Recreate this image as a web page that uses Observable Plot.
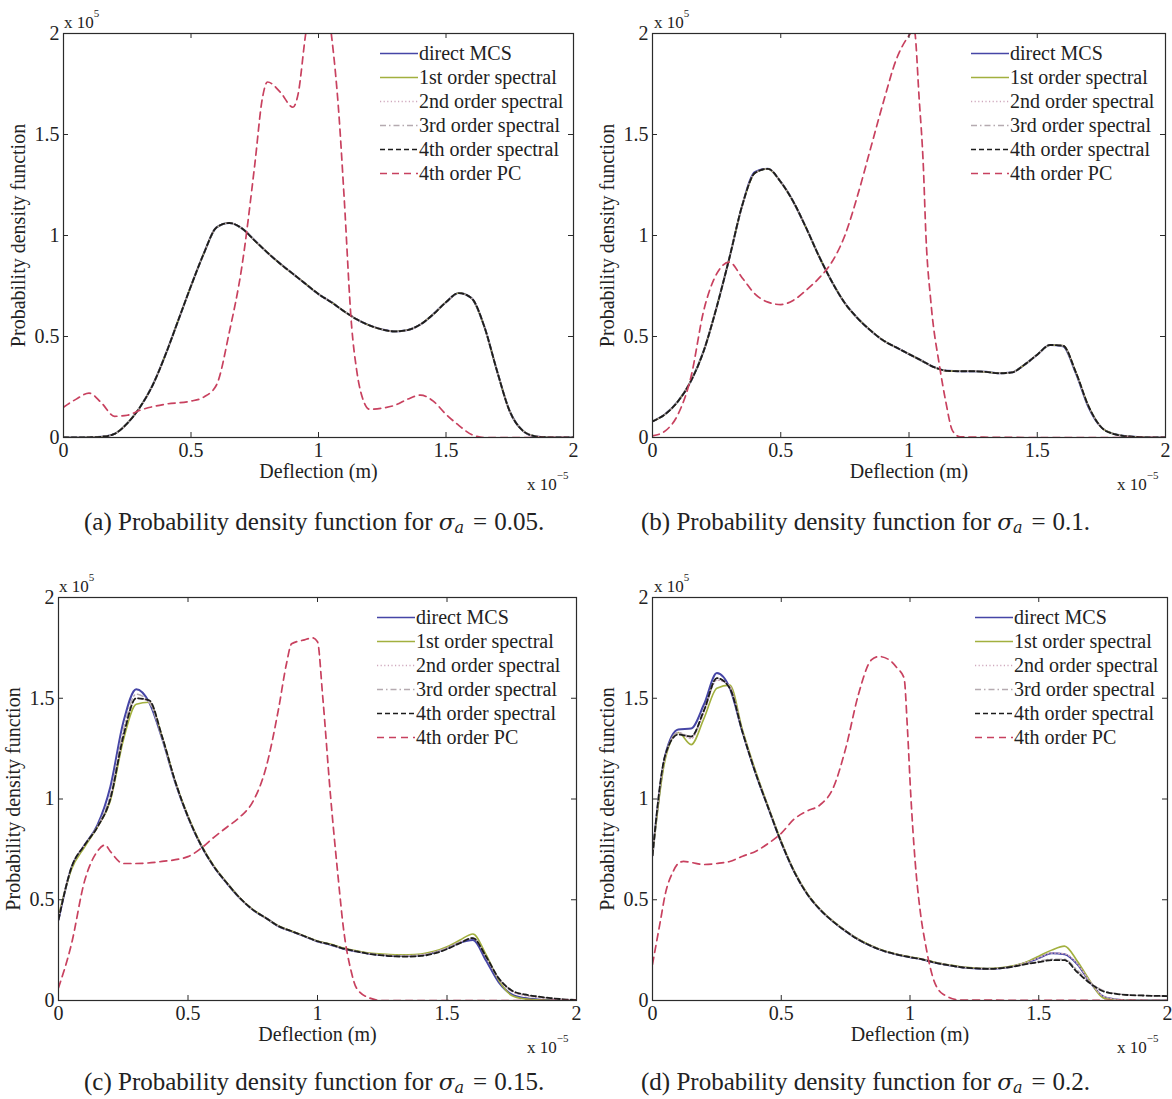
<!DOCTYPE html>
<html>
<head>
<meta charset="utf-8">
<script src="https://cdn.jsdelivr.net/npm/d3@7"></script>
<script src="https://cdn.jsdelivr.net/npm/@observablehq/plot@0.6"></script>
<style>
  html, body { margin: 0; padding: 0; background: #fff; }
  #page { position: relative; width: 1172px; height: 1099px; overflow: hidden; background: #fff;
          font-family: "Liberation Serif", "Times New Roman", serif; color: #222; }
  .panel { position: absolute; }
  .abs { position: absolute; white-space: nowrap; line-height: 1; }
  .mult { font-size: 17px; }
  .mult sup { font-size: 11px; position: relative; top: -4px; }
  .cap { font-size: 25px; }
  .cap .m { font-family: "DejaVu Serif", "Liberation Serif", serif; font-style: italic; font-size: 23px; }
  .cap sub { font-size: 16px; font-style: italic; position: relative; top: 3px; vertical-align: baseline; font-family: "DejaVu Serif", serif; }
  .cap .eq { margin: 0 7px 0 9px; }
  .leg { position: absolute; font-size: 20px; line-height: 1; }
  .leg .row { position: absolute; left: 0; height: 20px; display: flex; align-items: center; white-space: nowrap; }
  .leg svg { display: block; margin-right: 1px; }
</style>
</head>
<body>
<div id="page"></div>
<script>
// ---------------- data (x in 1e-5 m, y in 1e5) ----------------
const xTicks = [0, 0.5, 1, 1.5, 2];
const yTicks = [0, 0.5, 1, 1.5, 2];
const seriesNames = ["direct MCS", "1st order spectral", "2nd order spectral", "3rd order spectral", "4th order spectral", "4th order PC"];
const captions = ["(a)", "(b)", "(c)", "(d)"];
const sigmaValues = ["0.05", "0.1", "0.15", "0.2"];

const xs = [0,0.05,0.1,0.15,0.2,0.25,0.3,0.35,0.4,0.45,0.5,0.55,0.6,0.65,0.7,0.75,0.8,0.85,0.9,0.95,1,1.05,1.1,1.15,1.2,1.25,1.3,1.35,1.4,1.45,1.5,1.55,1.6,1.65,1.7,1.75,1.8,1.85,1.9,1.95,2];

// (a) sigma = 0.05
const aMCS      = [0,0,0.001,0.004,0.018,0.07,0.15,0.26,0.41,0.58,0.75,0.91,1.04,1.062,1.035,0.975,0.915,0.86,0.81,0.76,0.71,0.67,0.625,0.585,0.555,0.535,0.525,0.532,0.56,0.61,0.67,0.715,0.69,0.55,0.33,0.13,0.035,0.006,0.001,0,0];
const aSpectral = [0,0,0.001,0.004,0.018,0.07,0.15,0.26,0.41,0.58,0.75,0.91,1.04,1.062,1.035,0.975,0.915,0.86,0.81,0.76,0.71,0.67,0.625,0.585,0.555,0.535,0.525,0.532,0.56,0.61,0.67,0.715,0.69,0.55,0.33,0.13,0.035,0.006,0.001,0,0];
const aPCx = [0,0.05,0.1,0.15,0.2,0.25,0.3,0.4,0.5,0.55,0.6,0.65,0.7,0.75,0.78,0.8,0.85,0.9,0.92,0.95,1.0,1.05,1.08,1.1,1.13,1.15,1.18,1.2,1.25,1.3,1.35,1.4,1.45,1.5,1.55,1.6,1.65,1.8,2];
const aPCy = [0.15,0.19,0.22,0.17,0.105,0.11,0.135,0.165,0.18,0.2,0.26,0.52,0.85,1.35,1.68,1.76,1.71,1.635,1.7,2.0,2.3,2.0,1.6,1.2,0.55,0.33,0.17,0.14,0.145,0.16,0.19,0.21,0.18,0.115,0.06,0.015,0,0,0];

// (b) sigma = 0.1
const bMCS      = [0.08,0.116,0.18,0.28,0.43,0.645,0.89,1.15,1.315,1.33,1.265,1.165,1.035,0.895,0.77,0.665,0.59,0.53,0.48,0.446,0.413,0.38,0.347,0.33,0.328,0.328,0.325,0.318,0.322,0.36,0.41,0.458,0.452,0.32,0.15,0.05,0.017,0.006,0.002,0,0];
const bSpectral = [0.08,0.116,0.18,0.28,0.43,0.645,0.89,1.15,1.31,1.33,1.265,1.165,1.035,0.895,0.77,0.665,0.59,0.53,0.48,0.446,0.413,0.38,0.347,0.33,0.328,0.328,0.325,0.318,0.322,0.36,0.41,0.458,0.455,0.325,0.155,0.05,0.017,0.006,0.002,0,0];
const bPCx = [0,0.05,0.1,0.15,0.2,0.25,0.3,0.35,0.4,0.45,0.5,0.55,0.6,0.65,0.7,0.75,0.8,0.85,0.9,0.95,1.0,1.02,1.04,1.056,1.066,1.085,1.12,1.143,1.17,1.2,1.5,2];
const bPCy = [0.008,0.033,0.116,0.3,0.63,0.81,0.868,0.79,0.71,0.67,0.658,0.68,0.73,0.79,0.87,1.0,1.2,1.43,1.66,1.87,1.99,2.02,1.67,1.34,1.0,0.675,0.347,0.18,0.033,0.003,0,0];

// (c) sigma = 0.15
const cMCS = [0.4,0.66,0.77,0.87,1.06,1.38,1.545,1.48,1.3,1.085,0.91,0.77,0.664,0.582,0.508,0.45,0.41,0.368,0.343,0.318,0.293,0.277,0.257,0.244,0.232,0.226,0.222,0.222,0.226,0.238,0.26,0.287,0.3,0.2,0.09,0.03,0.012,0.005,0.002,0.001,0];
const c1st = [0.42,0.65,0.76,0.86,0.99,1.29,1.47,1.48,1.31,1.09,0.915,0.775,0.668,0.585,0.51,0.452,0.41,0.37,0.345,0.32,0.295,0.28,0.26,0.247,0.236,0.23,0.227,0.227,0.231,0.244,0.267,0.3,0.33,0.23,0.1,0.025,0.008,0.003,0.001,0,0];
const c2nd = [0.41,0.66,0.77,0.86,1.0,1.31,1.5,1.485,1.31,1.09,0.912,0.772,0.666,0.583,0.509,0.451,0.41,0.369,0.344,0.319,0.294,0.278,0.258,0.245,0.233,0.227,0.223,0.223,0.227,0.24,0.262,0.29,0.31,0.215,0.105,0.045,0.025,0.015,0.01,0.006,0.003];
const c3rd = [0.4,0.66,0.77,0.865,1.02,1.34,1.52,1.48,1.3,1.087,0.91,0.77,0.664,0.582,0.508,0.45,0.41,0.368,0.343,0.318,0.293,0.277,0.257,0.244,0.232,0.226,0.222,0.222,0.226,0.238,0.26,0.288,0.31,0.22,0.11,0.05,0.028,0.018,0.011,0.006,0.003];
const c4th = [0.4,0.66,0.77,0.86,1.0,1.31,1.5,1.49,1.31,1.09,0.912,0.772,0.665,0.583,0.509,0.451,0.41,0.369,0.344,0.319,0.294,0.278,0.258,0.244,0.231,0.224,0.219,0.218,0.221,0.233,0.255,0.285,0.31,0.22,0.11,0.05,0.03,0.02,0.012,0.006,0.003];
const cPCx = [0,0.05,0.1,0.15,0.18,0.2,0.25,0.3,0.4,0.5,0.55,0.6,0.65,0.7,0.75,0.8,0.85,0.88,0.9,0.95,0.98,1.0,1.02,1.05,1.08,1.1,1.13,1.15,1.2,1.25,2];
const cPCy = [0.063,0.28,0.59,0.74,0.772,0.74,0.68,0.68,0.69,0.714,0.755,0.81,0.86,0.91,0.986,1.15,1.45,1.67,1.77,1.79,1.8,1.78,1.51,1.02,0.607,0.36,0.145,0.063,0.013,0,0];

// (d) sigma = 0.2
const dMCS = [0.72,1.22,1.345,1.35,1.47,1.625,1.55,1.33,1.13,0.955,0.785,0.64,0.53,0.452,0.393,0.344,0.302,0.27,0.245,0.228,0.215,0.203,0.187,0.175,0.165,0.16,0.157,0.16,0.17,0.187,0.21,0.235,0.23,0.18,0.09,0.02,0.005,0.001,0,0,0];
const d1st = [0.72,1.2,1.33,1.27,1.4,1.55,1.565,1.34,1.14,0.96,0.79,0.643,0.532,0.454,0.395,0.346,0.304,0.272,0.247,0.23,0.217,0.205,0.189,0.177,0.167,0.162,0.159,0.162,0.172,0.19,0.22,0.25,0.27,0.195,0.095,0.013,0.003,0.001,0,0,0];
const d2nd = [0.72,1.21,1.33,1.3,1.43,1.59,1.56,1.335,1.135,0.958,0.787,0.641,0.531,0.453,0.394,0.345,0.303,0.271,0.246,0.229,0.216,0.204,0.188,0.176,0.166,0.161,0.158,0.161,0.171,0.188,0.212,0.236,0.232,0.182,0.092,0.022,0.006,0.002,0,0,0];
const d3rd = [0.72,1.22,1.33,1.31,1.44,1.6,1.55,1.33,1.13,0.955,0.785,0.64,0.53,0.452,0.393,0.344,0.302,0.27,0.245,0.228,0.215,0.203,0.187,0.175,0.165,0.16,0.157,0.16,0.168,0.18,0.195,0.205,0.205,0.15,0.09,0.05,0.035,0.028,0.025,0.023,0.022];
const d4th = [0.72,1.22,1.32,1.31,1.44,1.6,1.55,1.33,1.13,0.955,0.785,0.64,0.53,0.452,0.393,0.344,0.302,0.27,0.245,0.228,0.215,0.203,0.187,0.175,0.165,0.16,0.157,0.16,0.168,0.18,0.19,0.2,0.2,0.14,0.085,0.046,0.033,0.027,0.025,0.023,0.022];
const dPCx = [0,0.03,0.05,0.08,0.1,0.12,0.15,0.2,0.25,0.3,0.35,0.4,0.45,0.5,0.55,0.6,0.65,0.7,0.75,0.8,0.85,0.88,0.92,0.95,0.977,0.99,1.003,1.02,1.04,1.06,1.09,1.13,1.2,2];
const dPCy = [0.18,0.39,0.53,0.64,0.68,0.69,0.685,0.675,0.68,0.69,0.716,0.74,0.78,0.83,0.9,0.94,0.97,1.05,1.25,1.52,1.69,1.707,1.69,1.65,1.6,1.35,1.02,0.69,0.44,0.28,0.11,0.03,0.002,0];

// ---------------- styles ----------------
const styles = {
  "direct MCS":         {color: "#4646a6", width: 2.0, dash: null},
  "1st order spectral": {color: "#a2b03e", width: 1.6, dash: null},
  "2nd order spectral": {color: "#cfa9bd", width: 1.4, dash: "1.2,2.4"},
  "3rd order spectral": {color: "#b5aab0", width: 1.4, dash: "6,3,1.5,3"},
  "4th order spectral": {color: "#1c1c1c", width: 1.8, dash: "5,3"},
  "4th order PC":       {color: "#c8415f", width: 1.7, dash: "7,5"}
};

const panels = [
  {left: 0,   top: 0,   width: 588, height: 490, mL: 63, mR: 15, mT: 33, mB: 53,
   series: [[xs, aMCS], [xs, aSpectral], [xs, aSpectral], [xs, aSpectral], [xs, aSpectral], [aPCx, aPCy]],
   legend: {x: 380, y: 43}, mult5: {x: 64, y: 12}, multm5: {x: 527, y: 474}, cap: {x: 84, y: 509}},
  {left: 590, top: 0,   width: 582, height: 490, mL: 62, mR: 7,  mT: 33, mB: 53,
   series: [[xs, bMCS], [xs, bSpectral], [xs, bSpectral], [xs, bSpectral], [xs, bSpectral], [bPCx, bPCy]],
   legend: {x: 971, y: 43}, mult5: {x: 654, y: 12}, multm5: {x: 1117, y: 474}, cap: {x: 641, y: 509}},
  {left: 0,   top: 560, width: 588, height: 493, mL: 58, mR: 12, mT: 37, mB: 53,
   series: [[xs, cMCS], [xs, c1st], [xs, c2nd], [xs, c3rd], [xs, c4th], [cPCx, cPCy]],
   legend: {x: 377, y: 607}, mult5: {x: 59, y: 576}, multm5: {x: 527, y: 1037}, cap: {x: 84, y: 1069}},
  {left: 590, top: 560, width: 582, height: 493, mL: 62, mR: 5,  mT: 37, mB: 53,
   series: [[xs, dMCS], [xs, d1st], [xs, d2nd], [xs, d3rd], [xs, d4th], [dPCx, dPCy]],
   legend: {x: 975, y: 607}, mult5: {x: 654, y: 576}, multm5: {x: 1117, y: 1037}, cap: {x: 641, y: 1069}}
];

const page = document.getElementById("page");
const frameColor = "#2b2b2b";

function addDiv(cls, x, y, html) {
  const d = document.createElement("div");
  d.className = cls;
  d.style.left = x + "px";
  d.style.top = y + "px";
  d.innerHTML = html;
  page.appendChild(d);
  return d;
}

panels.forEach((p, pi) => {
  const fw = p.width - p.mL - p.mR;
  const fh = p.height - p.mT - p.mB;
  const lineMarks = p.series.map(([sx, sy], si) => {
    const st = styles[seriesNames[si]];
    const rows = sx.map((x, i) => ({x, y: sy[i]}));
    return Plot.line(rows, {x: "x", y: "y", stroke: st.color, strokeWidth: st.width,
      strokeDasharray: st.dash, curve: "monotone-x", clip: true});
  });
  const svg = Plot.plot({
    width: p.width, height: p.height,
    marginLeft: p.mL, marginRight: p.mR, marginTop: p.mT, marginBottom: p.mB,
    x: {domain: [0, 2]},
    y: {domain: [0, 2]},
    style: {fontFamily: "'Liberation Serif', 'Times New Roman', serif", fontSize: "20px", color: "#222", background: "transparent", overflow: "visible"},
    marks: [
      Plot.axisX({ticks: xTicks, tickFormat: d => String(d), tickSize: 0, tickPadding: 5,
        label: "Deflection (m)", labelAnchor: "center", labelOffset: 40, labelArrow: "none"}),
      Plot.axisY({ticks: yTicks, tickFormat: d => String(d), tickSize: 0, tickPadding: 4,
        label: "Probability density function", labelAnchor: "center", labelOffset: 53, labelArrow: "none"}),
      ...lineMarks,
      Plot.tickX(xTicks, {x: d => d, insetTop: fh - 5, stroke: frameColor}),
      Plot.tickX(xTicks, {x: d => d, insetBottom: fh - 5, stroke: frameColor}),
      Plot.tickY(yTicks, {y: d => d, insetRight: fw - 5, stroke: frameColor}),
      Plot.tickY(yTicks, {y: d => d, insetLeft: fw - 5, stroke: frameColor}),
      Plot.frame({stroke: frameColor, strokeWidth: 1.2})
    ]
  });
  const holder = document.createElement("div");
  holder.className = "panel";
  holder.style.left = p.left + "px";
  holder.style.top = p.top + "px";
  holder.appendChild(svg);
  page.appendChild(holder);

  // multipliers
  addDiv("abs mult", p.mult5.x, p.mult5.y, "x 10<sup>5</sup>");
  addDiv("abs mult", p.multm5.x, p.multm5.y, "x 10<sup>\u22125</sup>");

  // legend
  const leg = addDiv("leg", p.legend.x, p.legend.y, "");
  seriesNames.forEach((name, i) => {
    const st = styles[name];
    const row = document.createElement("div");
    row.className = "row";
    row.style.top = (i * 24) + "px";
    row.innerHTML = `<svg width="38" height="12"><line x1="0" y1="6.5" x2="38" y2="6.5" stroke="${st.color}" stroke-width="${Math.min(st.width, 1.5)}" ${st.dash ? `stroke-dasharray="${st.dash}"` : ""}/></svg><span>${name}</span>`;
    leg.appendChild(row);
  });

  // caption
  addDiv("abs cap", p.cap.x, p.cap.y,
    `${captions[pi]} Probability density function for <span class="m">σ</span><sub>a</sub><span class="eq">=</span>${sigmaValues[pi]}.`);
});
</script>
</body>
</html>
